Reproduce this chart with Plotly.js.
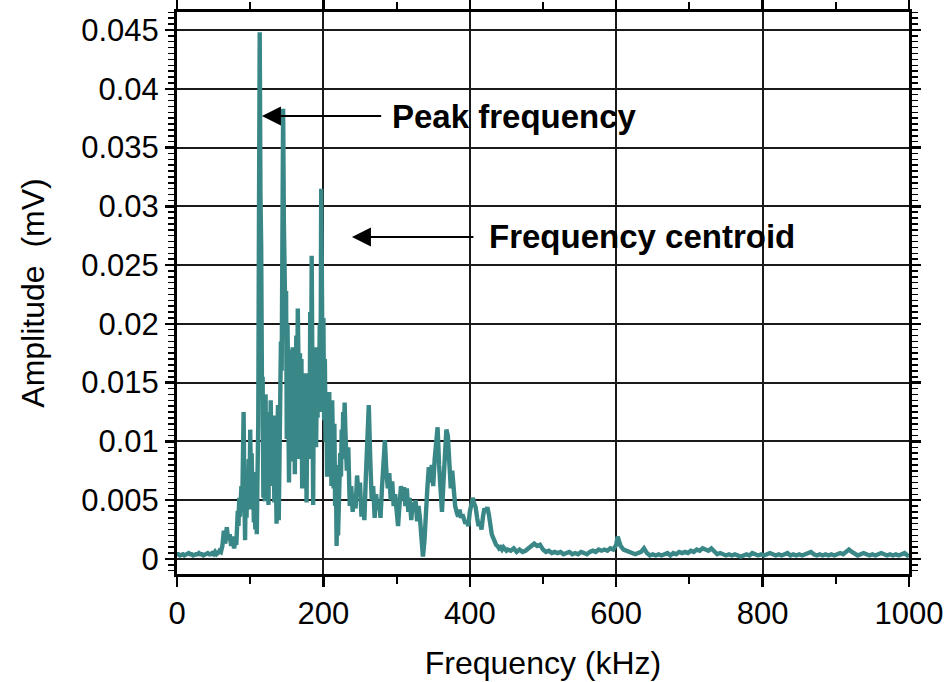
<!DOCTYPE html>
<html>
<head>
<meta charset="utf-8">
<script src="https://cdn.plot.ly/plotly-3.0.1.min.js"></script>
<style>html,body{margin:0;padding:0;background:#fff;}#chart{width:947px;height:682px;}</style>
</head>
<body>
<div id="chart"></div>
<script>
// ---- Data (frequency in kHz, amplitude in mV) ----
const freqLow = [0,2,4,6,8,10,12,14,16,18,20,22,24,26,28,30,32,34,36,38,40,42,44,46,48,50,52,54,56,58,60,62,64,66,68,70,72,74,76,78];
const ampLow  = [0.0004,0.0004,0.0003,0.0004,0.0004,0.0003,0.0004,0.0004,0.0005,0.0004,0.0004,0.0003,0.0004,0.0004,0.0004,0.0005,0.0004,0.0004,0.0003,0.0004,0.0004,0.0005,0.0004,0.0004,0.0005,0.0004,0.0006,0.0004,0.0005,0.0007,0.0006,0.0011,0.0024,0.0013,0.0027,0.0016,0.0021,0.0011,0.0019,0.0009];

const freqMain = [80,81,82,83,84,85,86,87,88,89,90,91,92,93,94,95,96,97,98,99,100,101,102,103,104,105,106,107,108,109,110,111,112,113,114,115,116,117,118,119,120,121,122,123,124,125,126,127,128,129,130,131,132,133,134,135,136,137,138,139,140,141,142,143,144,145,146,147,148,149,150,151,152,153,154,155,156,157,158,159,160,161,162,163,164,165,166,167,168,169,170,171,172,173,174,175,176,177,178,179,180,181,182,183,184,185,186,187,188,189,190,191,192,193,194,195,196,197,198,199,200,201,202,203,204,205,206,207,208,209,210,211,212,213,214,215,216,217,218,219,220,221,222,223,224,225,226,227,228,229,230];
const ampMain  = [0.0015,0.0012,0.0026,0.0041,0.0028,0.0052,0.0036,0.0049,0.0062,0.0040,0.0094,0.0125,0.0058,0.0016,0.0071,0.0035,0.0069,0.0048,0.0085,0.0042,0.0110,0.0067,0.0090,0.0050,0.0074,0.0031,0.0062,0.0025,0.0051,0.0021,0.0072,0.0114,0.0290,0.0448,0.0310,0.0266,0.0152,0.0155,0.0052,0.0098,0.0049,0.0140,0.0060,0.0118,0.0074,0.0046,0.0125,0.0068,0.0135,0.0088,0.0117,0.0062,0.0098,0.0048,0.0122,0.0072,0.0030,0.0100,0.0131,0.0033,0.0085,0.0140,0.0185,0.0160,0.0333,0.0383,0.0285,0.0236,0.0205,0.0228,0.0102,0.0200,0.0145,0.0065,0.0178,0.0090,0.0158,0.0112,0.0180,0.0083,0.0150,0.0072,0.0140,0.0190,0.0120,0.0213,0.0165,0.0085,0.0175,0.0100,0.0170,0.0060,0.0158,0.0095,0.0148,0.0118,0.0158,0.0048,0.0130,0.0090,0.0150,0.0085,0.0210,0.0120,0.0258,0.0140,0.0046,0.0168,0.0110,0.0180,0.0095,0.0150,0.0120,0.0175,0.0130,0.0200,0.0125,0.0315,0.0239,0.0148,0.0205,0.0118,0.0170,0.0100,0.0140,0.0070,0.0118,0.0095,0.0142,0.0072,0.0110,0.0062,0.0135,0.0095,0.0060,0.0115,0.0045,0.0080,0.0011,0.0045,0.0020,0.0060,0.0040,0.0090,0.0070,0.0110,0.0085,0.0125,0.0095,0.0133,0.0110];

const freqMid = [232,234,236,238,240,242,244,246,248,250,252,254,256,258,260,262,264,266,268,270,272,274,276,278,280,282,284,286,288,290,292,294,296,298,300,302,304,306,308,310,312,314,316,318,320,322,324,326,328,330,332,334,336,338,340,342,344,346,348,350,352,354,356,358,360,362,364,366,368,370,372,374,376,378,380,382,384,386,388,390,392,394,396,398,400,402,404,406,408,410,412,414,416,418,420,422,424,426,428,430,432,434,436,438,440,442,444,446,448,450];
const ampMid  = [0.0075,0.0095,0.0045,0.0062,0.0040,0.0055,0.0043,0.0071,0.0055,0.0065,0.0036,0.0048,0.0033,0.0070,0.0105,0.0131,0.0085,0.0050,0.0062,0.0035,0.0055,0.0042,0.0050,0.0035,0.0060,0.0085,0.0101,0.0075,0.0060,0.0073,0.0050,0.0066,0.0045,0.0055,0.0040,0.0028,0.0046,0.0062,0.0050,0.0061,0.0045,0.0060,0.0040,0.0052,0.0033,0.0048,0.0040,0.0050,0.0032,0.0045,0.0034,0.0022,0.0002,0.0015,0.0045,0.0060,0.0078,0.0065,0.0080,0.0062,0.0085,0.0105,0.0112,0.0080,0.0060,0.0040,0.0065,0.0095,0.0110,0.0105,0.0085,0.0060,0.0075,0.0055,0.0045,0.0040,0.0036,0.0042,0.0035,0.0038,0.0033,0.0030,0.0032,0.0028,0.0040,0.0048,0.0052,0.0047,0.0044,0.0035,0.0028,0.0032,0.0025,0.0036,0.0043,0.0040,0.0044,0.0038,0.0026,0.0021,0.0018,0.0014,0.0012,0.0011,0.0009,0.0010,0.0008,0.0010,0.0008,0.0007];

const freqTail = [452,456,460,464,468,472,476,480,484,488,492,496,500,504,508,512,516,520,524,528,532,536,540,544,548,552,556,560,564,568,572,576,580,584,588,592,596,600,602,604,606,610,614,618,622,626,630,634,638,642,646,650,654,658,662,666,670,674,678,682,686,690,694,698,702,706,710,714,718,722,726,730,734,738,742,746,750,754,758,762,766,770,774,778,782,786,790,794,798,802,806,810,814,818,822,826,830,834,838,842,846,850,854,858,862,866,870,874,878,882,886,890,894,898,902,906,910,914,918,922,926,930,934,938,942,946,950,954,958,962,966,970,974,978,982,986,990,994,998,1000];
const ampTail  = [0.0008,0.0007,0.0009,0.0006,0.0008,0.0006,0.0007,0.0009,0.0010,0.0013,0.0011,0.0012,0.0008,0.0006,0.0007,0.0005,0.0006,0.0005,0.0006,0.0004,0.0005,0.0006,0.0004,0.0005,0.0004,0.0006,0.0005,0.0004,0.0006,0.0007,0.0006,0.0008,0.0007,0.0008,0.0007,0.0009,0.0008,0.0012,0.0019,0.0016,0.0011,0.0008,0.0007,0.0006,0.0005,0.0004,0.0005,0.0006,0.0009,0.0005,0.0003,0.0004,0.0003,0.0004,0.0003,0.0004,0.0005,0.0003,0.0005,0.0004,0.0006,0.0005,0.0006,0.0005,0.0007,0.0006,0.0008,0.0007,0.0009,0.0008,0.0007,0.0009,0.0006,0.0004,0.0005,0.0004,0.0003,0.0004,0.0003,0.0004,0.0003,0.0002,0.0003,0.0004,0.0003,0.0005,0.0004,0.0003,0.0004,0.0003,0.0004,0.0005,0.0004,0.0003,0.0004,0.0003,0.0004,0.0005,0.0003,0.0004,0.0003,0.0004,0.0003,0.0004,0.0005,0.0006,0.0004,0.0003,0.0004,0.0003,0.0004,0.0003,0.0004,0.0003,0.0004,0.0005,0.0004,0.0006,0.0008,0.0006,0.0004,0.0003,0.0004,0.0005,0.0004,0.0003,0.0004,0.0003,0.0004,0.0005,0.0004,0.0003,0.0004,0.0003,0.0004,0.0003,0.0004,0.0005,0.0003,0.0002];

const xTickVals = [0,200,400,600,800,1000];
const xTickText = ['0','200','400','600','800','1000'];
const yTickVals = [0,0.005,0.01,0.015,0.02,0.025,0.03,0.035,0.04,0.045];
const yTickText = ['0','0.005','0.01','0.015','0.02','0.025','0.03','0.035','0.04','0.045'];

const xTitle = 'Frequency (kHz)';
const yTitle = 'Amplitude\u00a0 (mV)';
const peakLabel = 'Peak frequency';
const centroidLabel = 'Frequency centroid';

// ---- Build ----
const freq = freqLow.concat(freqMain, freqMid, freqTail);
const amp = ampLow.concat(ampMain, ampMid, ampTail);

const FONT = 'Arial, "Liberation Sans", sans-serif';

const trace = {
  x: freq, y: amp, type: 'scatter', mode: 'lines',
  line: {color: '#3a8787', width: 4.4},
  hoverinfo: 'skip'
};

const layout = {
  width: 947, height: 682,
  margin: {l: 177, r: 38, t: 12, b: 108},
  paper_bgcolor: '#ffffff', plot_bgcolor: '#ffffff',
  showlegend: false,
  font: {family: FONT, color: '#000', size: 30},
  xaxis: {
    range: [0, 1000],
    tickvals: xTickVals, ticktext: xTickText,
    ticks: 'outside', ticklen: 10, tickwidth: 2.5, tickcolor: '#000',
    showline: true, linewidth: 3, linecolor: '#000', mirror: 'allticks',
    showgrid: true, gridcolor: '#1a1a1a', gridwidth: 2,
    zeroline: false,
    minor: {dtick: 100, tick0: 0, ticks: 'outside', ticklen: 7, tickwidth: 2, tickcolor: '#000', showgrid: false},
    tickfont: {family: FONT, size: 31, color: '#000'},
    title: {text: xTitle, font: {family: FONT, size: 32, color: '#000'}, standoff: 22}
  },
  yaxis: {
    range: [-0.00128, 0.04653],
    tickvals: yTickVals, ticktext: yTickText,
    ticks: 'outside', ticklen: 9, tickwidth: 2.5, tickcolor: '#000',
    showline: true, linewidth: 3, linecolor: '#000', mirror: 'allticks',
    showgrid: true, gridcolor: '#1a1a1a', gridwidth: 2,
    zeroline: false,
    minor: {dtick: 0.0005, tick0: 0, ticks: 'outside', ticklen: 6, tickwidth: 1.5, tickcolor: '#000', showgrid: false},
    tickfont: {family: FONT, size: 31, color: '#000'},
    title: {text: yTitle, font: {family: FONT, size: 32, color: '#000'}, standoff: 28}
  },
  annotations: [
    {x: 116, y: 0.03768, ax: 281, ay: 0.03768, xref: 'x', yref: 'y', axref: 'x', ayref: 'y',
     text: '', showarrow: true, arrowhead: 2, arrowsize: 1.9, arrowwidth: 2, arrowcolor: '#000'},
    {x: 291, y: 0.03768, xref: 'x', yref: 'y', text: '<b>' + peakLabel + '</b>', showarrow: false,
     xanchor: 'left', yanchor: 'middle', font: {family: FONT, size: 33, color: '#000'}},
    {x: 239, y: 0.02739, ax: 407, ay: 0.02739, xref: 'x', yref: 'y', axref: 'x', ayref: 'y',
     text: '', showarrow: true, arrowhead: 2, arrowsize: 1.9, arrowwidth: 2, arrowcolor: '#000'},
    {x: 423, y: 0.02739, xref: 'x', yref: 'y', text: '<b>' + centroidLabel + '</b>', showarrow: false,
     xanchor: 'left', yanchor: 'middle', font: {family: FONT, size: 33, color: '#000'}}
  ]
};

Plotly.newPlot('chart', [trace], layout, {displayModeBar: false, staticPlot: true});
</script>
</body>
</html>
